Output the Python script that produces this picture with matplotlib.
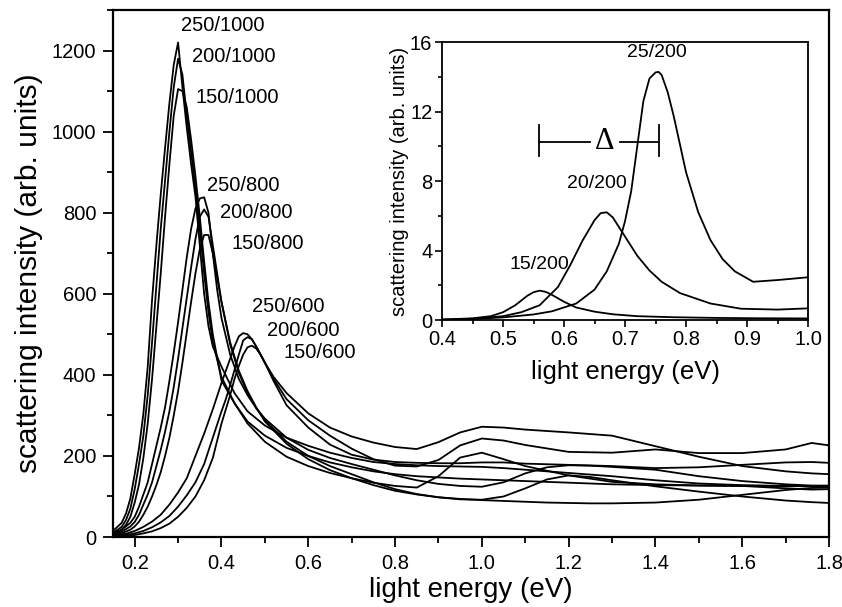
import numpy as np
import matplotlib
matplotlib.use("Agg")
import matplotlib.pyplot as plt
from matplotlib.ticker import MultipleLocator

plt.rcParams['font.family'] = ['Liberation Sans', 'DejaVu Sans']

# ---- main panel data (light energy in eV, intensity arb. units) ----
e_1000 = [0.15, 0.17, 0.18, 0.19, 0.20, 0.21, 0.22, 0.23, 0.24, 0.25, 0.26, 0.27,
          0.28, 0.29, 0.30, 0.31, 0.32, 0.33, 0.34, 0.35, 0.36, 0.37, 0.38, 0.40,
          0.43, 0.46, 0.50, 0.55, 0.60, 0.65, 0.70, 0.75, 0.80, 0.85, 0.90, 0.95,
          1.00, 1.05, 1.10, 1.20, 1.30, 1.40, 1.50, 1.60, 1.70, 1.76, 1.80]
i_250_1000 = [15, 35, 58, 95, 155, 220, 304, 420, 585, 720, 845, 960,
              1070, 1165, 1220, 1110, 1010, 920, 840, 720, 600, 520, 470, 420,
              355, 310, 275, 245, 225, 208, 195, 185, 180, 177, 175, 174,
              173, 170, 166, 158, 150, 140, 132, 128, 126, 125, 125]
i_200_1000 = [10, 25, 42, 70, 118, 180, 250, 350, 480, 620, 760, 880,
              1000, 1110, 1180, 1140, 1040, 950, 860, 760, 650, 555, 480, 395,
              330, 285, 250, 220, 200, 184, 172, 162, 155, 150, 147, 144,
              142, 140, 138, 134, 130, 128, 127, 126, 120, 117, 118]
i_150_1000 = [8, 18, 30, 50, 85, 130, 195, 280, 390, 520, 650, 790,
              920, 1040, 1105, 1100, 1060, 980, 890, 790, 680, 580, 500, 386,
              330, 280, 235, 198, 175, 158, 145, 134, 126, 122, 150, 196,
              208, 192, 175, 152, 136, 130, 127, 126, 125, 126, 127]

e_800 = [0.15, 0.17, 0.19, 0.20, 0.21, 0.22, 0.23, 0.24, 0.25, 0.26, 0.27, 0.28,
         0.29, 0.30, 0.31, 0.32, 0.33, 0.34, 0.35, 0.36, 0.37, 0.38, 0.39, 0.40,
         0.42, 0.44, 0.46, 0.48, 0.50, 0.55, 0.60, 0.65, 0.70, 0.75, 0.80, 0.85,
         0.90, 0.95, 1.00, 1.05, 1.10, 1.15, 1.20, 1.25, 1.30, 1.40, 1.50, 1.60,
         1.70, 1.76, 1.80]
i_250_800 = [8, 18, 35, 50, 75, 105, 135, 180, 225, 270, 320, 385,
             455, 530, 610, 690, 760, 810, 835, 838, 800, 700, 610, 540,
             450, 390, 350, 318, 292, 245, 215, 195, 180, 166, 152, 140,
             131, 126, 124, 135, 157, 172, 177, 176, 173, 166, 150, 138,
             130, 127, 126]
i_200_800 = [6, 13, 26, 37, 55, 80, 105, 135, 175, 215, 260, 310,
             370, 440, 515, 590, 665, 735, 790, 808, 790, 720, 650, 580,
             475, 405, 355, 318, 288, 235, 200, 175, 155, 135, 118, 106,
             98, 93, 92, 100, 120, 142, 152, 148, 140, 125, 112, 100,
             90, 86, 84]
i_150_800 = [4, 9, 18, 26, 38, 55, 75, 100, 128, 160, 200, 245,
             300, 360, 430, 505, 580, 650, 710, 745, 745, 700, 640, 580,
             480, 410, 360, 320, 285, 230, 192, 165, 145, 128, 114, 105,
             98, 94, 91, 89, 87, 85, 84, 83, 83, 85, 92, 104,
             116, 121, 122]

e_600 = [0.15, 0.18, 0.20, 0.22, 0.24, 0.26, 0.28, 0.30, 0.32, 0.34, 0.36, 0.38,
         0.40, 0.41, 0.42, 0.43, 0.44, 0.45, 0.46, 0.47, 0.48, 0.49, 0.50, 0.52,
         0.55, 0.60, 0.65, 0.70, 0.75, 0.80, 0.85, 0.90, 0.95, 1.00, 1.05, 1.10,
         1.20, 1.30, 1.40, 1.50, 1.60, 1.70, 1.76, 1.80]
i_250_600 = [3, 8, 15, 25, 38, 55, 80, 110, 145, 200, 255, 315,
             380, 410, 440, 470, 495, 503, 500, 488, 470, 450, 430, 395,
             355, 305, 270, 248, 233, 222, 217, 234, 258, 272, 270, 265,
             258, 250, 224, 198, 175, 162, 157, 155]
i_200_600 = [2, 5, 9, 15, 24, 36, 52, 75, 103, 135, 180, 245,
             310, 340, 375, 412, 450, 485, 493, 488, 470, 450, 430, 390,
             340, 288, 250, 218, 192, 176, 174, 190, 226, 243, 238, 227,
             210, 208, 216, 207, 207, 216, 232, 226]
i_150_600 = [1, 3, 5, 9, 14, 22, 33, 50, 72, 100, 140, 195,
             280, 315, 350, 390, 422, 450, 468, 472, 465, 450, 430, 385,
             325, 270, 228, 203, 191, 185, 183, 182, 182, 184, 184, 181,
             178, 175, 170, 172, 178, 184, 185, 183]

main_curves = [(e_1000, i_250_1000), (e_1000, i_200_1000), (e_1000, i_150_1000),
               (e_800, i_250_800), (e_800, i_200_800), (e_800, i_150_800),
               (e_600, i_250_600), (e_600, i_200_600), (e_600, i_150_600)]

main_labels = ["250/1000", "200/1000", "150/1000",
               "250/800", "200/800", "150/800",
               "250/600", "200/600", "150/600"]
main_label_x = [0.307, 0.332, 0.341, 0.367, 0.397, 0.423, 0.471, 0.506, 0.543]
main_label_y = [1262, 1186, 1083, 866, 800, 723, 568, 509, 455]

# ---- inset data ----
e_15 = [0.40, 0.45, 0.48, 0.50, 0.52, 0.54, 0.55, 0.56, 0.57, 0.58, 0.60, 0.62,
        0.65, 0.68, 0.72, 0.78, 0.85, 0.92, 1.00]
i_15 = [0.02, 0.10, 0.22, 0.45, 0.85, 1.40, 1.60, 1.69, 1.62, 1.45, 1.05, 0.72,
        0.48, 0.33, 0.22, 0.16, 0.12, 0.10, 0.09]
e_20 = [0.40, 0.45, 0.50, 0.53, 0.56, 0.59, 0.61, 0.63, 0.65, 0.66, 0.67, 0.68,
        0.70, 0.72, 0.74, 0.76, 0.79, 0.84, 0.89, 0.95, 1.00]
i_20 = [0.02, 0.06, 0.22, 0.45, 0.85, 1.90, 3.15, 4.55, 5.75, 6.15, 6.20, 5.90,
        4.80, 3.70, 2.85, 2.20, 1.55, 0.95, 0.65, 0.60, 0.67]
e_25 = [0.40, 0.45, 0.50, 0.55, 0.58, 0.62, 0.65, 0.67, 0.69, 0.70, 0.71, 0.72,
        0.73, 0.74, 0.75, 0.755, 0.76, 0.77, 0.78, 0.79, 0.80, 0.82, 0.84, 0.86,
        0.88, 0.91, 0.95, 1.00]
i_25 = [0.02, 0.06, 0.15, 0.32, 0.50, 0.95, 1.75, 2.80, 4.40, 5.70, 7.40, 10.0,
        12.6, 13.9, 14.25, 14.28, 14.10, 13.10, 11.70, 10.10, 8.50, 6.20, 4.60, 3.50,
        2.80, 2.20, 2.30, 2.46]

inset_curves = [(e_15, i_15), (e_20, i_20), (e_25, i_25)]
inset_labels = ["15/200", "20/200", "25/200"]
inset_label_x = [0.511, 0.605, 0.703]
inset_label_y = [3.17, 7.87, 15.37]

# ---- figure ----
fig = plt.figure(figsize=(8.42, 6.07), dpi=100)
ax = fig.add_axes([0.1342, 0.1153, 0.8504, 0.8682])

for e, i in main_curves:
    ax.plot(e, i, color="black", linewidth=1.3)

for lab, lx, ly in zip(main_labels, main_label_x, main_label_y):
    ax.text(lx, ly, lab, fontsize=14.5, ha="left", va="center")

ax.set_xlim(0.15, 1.8)
ax.set_ylim(0, 1300)
ax.xaxis.set_major_locator(MultipleLocator(0.2))
ax.xaxis.set_minor_locator(MultipleLocator(0.1))
ax.yaxis.set_major_locator(MultipleLocator(200))
ax.yaxis.set_minor_locator(MultipleLocator(100))
ax.tick_params(which="both", direction="out", top=False, right=False,
               width=1.3, labelsize=14.5, pad=5)
ax.tick_params(which="major", length=7)
ax.tick_params(which="minor", length=4)
for s in ax.spines.values():
    s.set_linewidth(1.6)
ax.set_xlabel("light energy (eV)", fontsize=20, labelpad=3)
ax.set_ylabel("scattering intensity (arb. units)", fontsize=21.5, labelpad=6)

# inset
axi = fig.add_axes([0.525, 0.4728, 0.4347, 0.458])
for e, i in inset_curves:
    axi.plot(e, i, color="black", linewidth=1.3)
for lab, lx, ly in zip(inset_labels, inset_label_x, inset_label_y):
    axi.text(lx, ly, lab, fontsize=14, ha="left", va="center")

# delta bar
bar_y = 10.26
axi.plot([0.559, 0.642], [bar_y, bar_y], color="black", linewidth=1.3)
axi.plot([0.691, 0.756], [bar_y, bar_y], color="black", linewidth=1.3)
axi.plot([0.559, 0.559], [9.45, 11.2], color="black", linewidth=1.3)
axi.plot([0.756, 0.756], [9.45, 11.2], color="black", linewidth=1.3)
axi.text(0.667, bar_y, "\u0394", fontsize=22, ha="center", va="center",
         family=["Liberation Serif", "DejaVu Serif"])

axi.set_xlim(0.4, 1.0)
axi.set_ylim(0, 16)
axi.xaxis.set_major_locator(MultipleLocator(0.1))
axi.xaxis.set_minor_locator(MultipleLocator(0.05))
axi.yaxis.set_major_locator(MultipleLocator(4))
axi.yaxis.set_minor_locator(MultipleLocator(2))
axi.tick_params(which="both", direction="out", top=False, right=False,
                width=1.2, labelsize=14.5, pad=2)
axi.tick_params(which="major", length=5)
axi.tick_params(which="minor", length=3)
for s in axi.spines.values():
    s.set_linewidth(1.3)
axi.set_xlabel("light energy (eV)", fontsize=18.5, labelpad=8)
axi.set_ylabel("scattering intensity (arb. units)", fontsize=14.5, labelpad=1)

fig.savefig("out.png", dpi=100)
